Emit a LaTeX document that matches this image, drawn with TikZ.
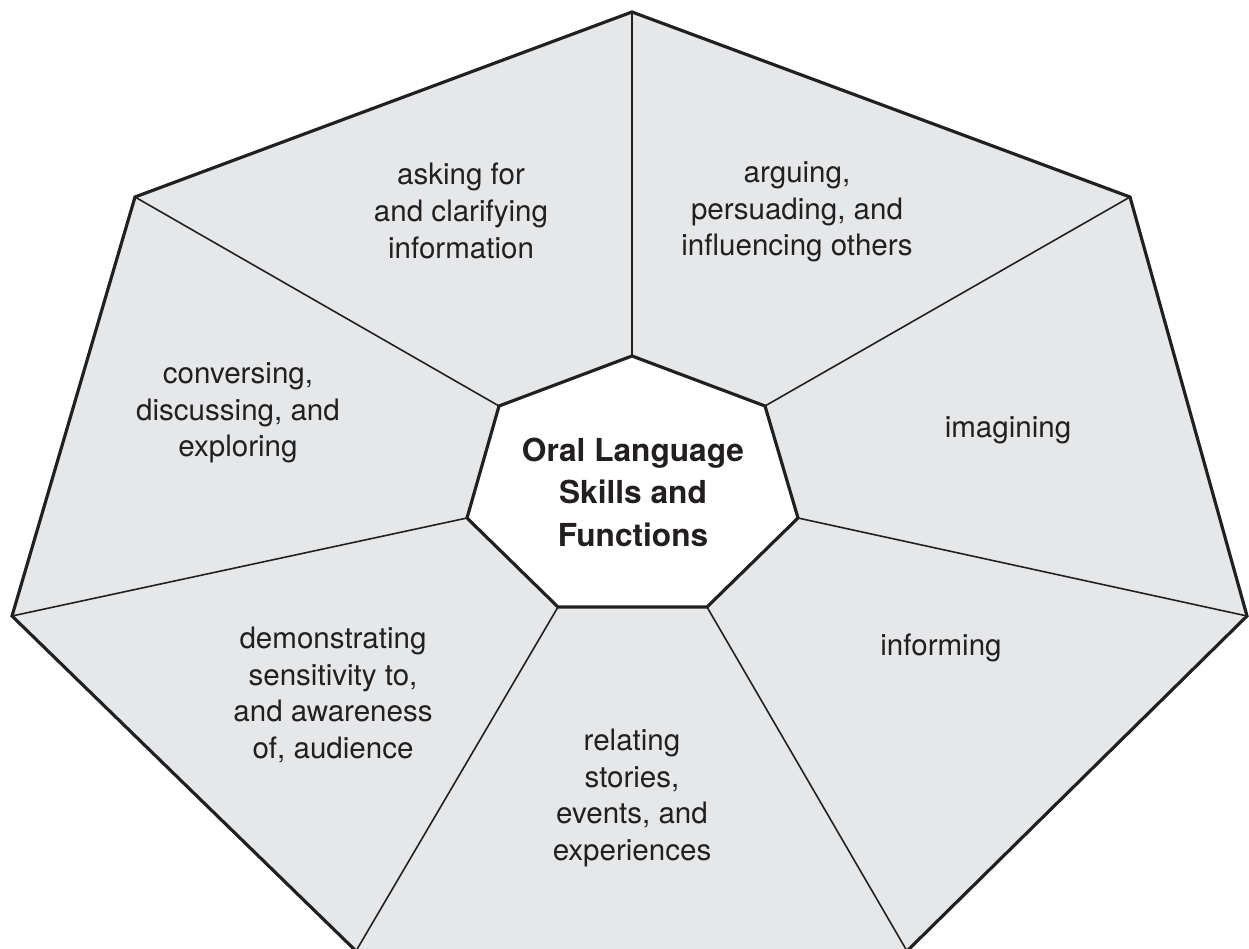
\documentclass[tikz,border=0pt]{standalone}
\usepackage{fontspec}
\setmainfont{TeX Gyre Heros}
\definecolor{ink}{HTML}{231F20}
\definecolor{panel}{HTML}{E6E7E8}
\tikzset{
  outerline/.style={draw=ink, line width=0.9pt, line join=miter},
  spoke/.style={draw=ink, line width=0.45pt},
  hub/.style={draw=ink, fill=white, line width=0.9pt, line join=miter},
  lbl/.style={text=ink, align=center, font=\fontsize{8.4}{10.45}\selectfont, inner sep=0pt},
  title/.style={text=ink, align=center, font=\fontsize{9}{12.1}\selectfont\bfseries, inner sep=0pt}
}
\begin{document}
\begin{tikzpicture}[x=0.01cm, y=-0.01cm]
\useasboundingbox (0,0) rectangle (1249,949);
% outer vertices
\coordinate (o1) at (632,12);
\coordinate (o2) at (1130,197);
\coordinate (o3) at (1247,616);
\coordinate (o4) at (907,951);
\coordinate (o5) at (356,951);
\coordinate (o6) at (12,616);
\coordinate (o7) at (135,197);
% inner vertices
\coordinate (i1) at (632,356);
\coordinate (i2) at (765,406);
\coordinate (i3) at (798,518);
\coordinate (i4) at (707,607);
\coordinate (i5) at (558,607);
\coordinate (i6) at (467,518);
\coordinate (i7) at (499,406);
% background panel
\fill[panel] (o1) -- (o2) -- (o3) -- (o4) -- (o5) -- (o6) -- (o7) -- cycle;
% spokes
\foreach \k in {1,...,7} { \draw[spoke] (i\k) -- (o\k); }
% hub
\path[hub] (i1) -- (i2) -- (i3) -- (i4) -- (i5) -- (i6) -- (i7) -- cycle;
% outer outline
\path[outerline] (o1) -- (o2) -- (o3) -- (o4) -- (o5) -- (o6) -- (o7) -- cycle;
% labels
\node[title] (center) at (633,492) {Oral Language\\Skills and\\Functions};
\node[lbl] (ask) at (461,211) {asking for\\and clarifying\\information};
\node[lbl] (arg) at (797,212) {arguing,\\persuading, and\\influencing others};
\node[lbl] (ima) at (1008,430) {imagining};
\node[lbl] (inf) at (941,648) {informing};
\node[lbl] (rel) at (632,798) {relating\\stories,\\events, and\\experiences};
\node[lbl] (dem) at (333,695) {demonstrating\\sensitivity to,\\and awareness\\of, audience};
\node[lbl] (con) at (238,413) {conversing,\\discussing, and\\exploring};
\end{tikzpicture}
\end{document}
